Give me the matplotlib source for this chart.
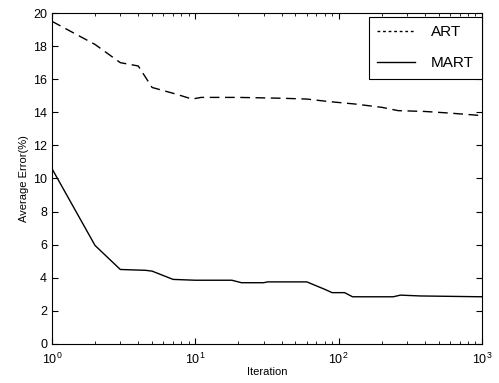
import matplotlib
matplotlib.use("Agg")
import matplotlib.pyplot as plt
from matplotlib.ticker import LogLocator, NullFormatter

plt.rcParams['font.family'] = ['Liberation Sans', 'DejaVu Sans']

art_x = [1, 2, 3, 4, 5, 7, 8, 9.5, 11, 20, 40, 60, 85, 130, 200, 260, 400, 600, 1000]
art_y = [19.5, 18.1, 17.0, 16.8, 15.5, 15.15, 15.0, 14.8, 14.9, 14.9, 14.85, 14.8, 14.65, 14.5, 14.3, 14.1, 14.05, 13.95, 13.8]

mart_x = [1, 2, 3, 4.5, 5, 7, 10, 18, 21, 30, 32, 60, 80, 90, 110, 125, 240, 270, 370, 1000]
mart_y = [10.6, 5.95, 4.5, 4.45, 4.4, 3.9, 3.85, 3.85, 3.7, 3.7, 3.75, 3.75, 3.3, 3.1, 3.1, 2.85, 2.85, 2.95, 2.9, 2.85]

fig = plt.figure(figsize=(4.99, 3.83), dpi=100)
ax = fig.add_axes([0.104, 0.102, 0.862, 0.864])
ax.plot(art_x, art_y, color='black', linestyle=(0, (7, 4)), linewidth=1.0, label='ART')
ax.plot(mart_x, mart_y, color='black', linestyle='-', linewidth=1.0, label='MART')
ax.set_xscale('log')
ax.set_xlim(1, 1000)
ax.set_ylim(0, 20)
ax.set_yticks(range(0, 21, 2))
ax.xaxis.set_minor_locator(LogLocator(base=10, subs=range(2, 10)))
ax.xaxis.set_minor_formatter(NullFormatter())
ax.tick_params(which='both', direction='in', top=True, right=True, labelsize=9)
ax.tick_params(axis='x', which='major', pad=6)
ax.tick_params(which='major', length=4)
ax.tick_params(which='minor', length=2.5)
ax.set_xlabel('Iteration', fontsize=8, labelpad=0)
ax.set_ylabel('Average Error(%)', fontsize=8, labelpad=3)
leg = ax.legend(loc='upper right', bbox_to_anchor=(1.0, 0.988), fontsize=11,
                fancybox=False, edgecolor='black', framealpha=1, borderaxespad=0,
                handlelength=2.5, borderpad=0.55, labelspacing=1.1, handletextpad=1.0)
leg.get_frame().set_linewidth(0.8)
for line in leg.get_lines():
    line.set_linestyle((0, (2, 2)) if line.get_label() == 'ART' else '-')
fig.savefig('out.png', dpi=100)
